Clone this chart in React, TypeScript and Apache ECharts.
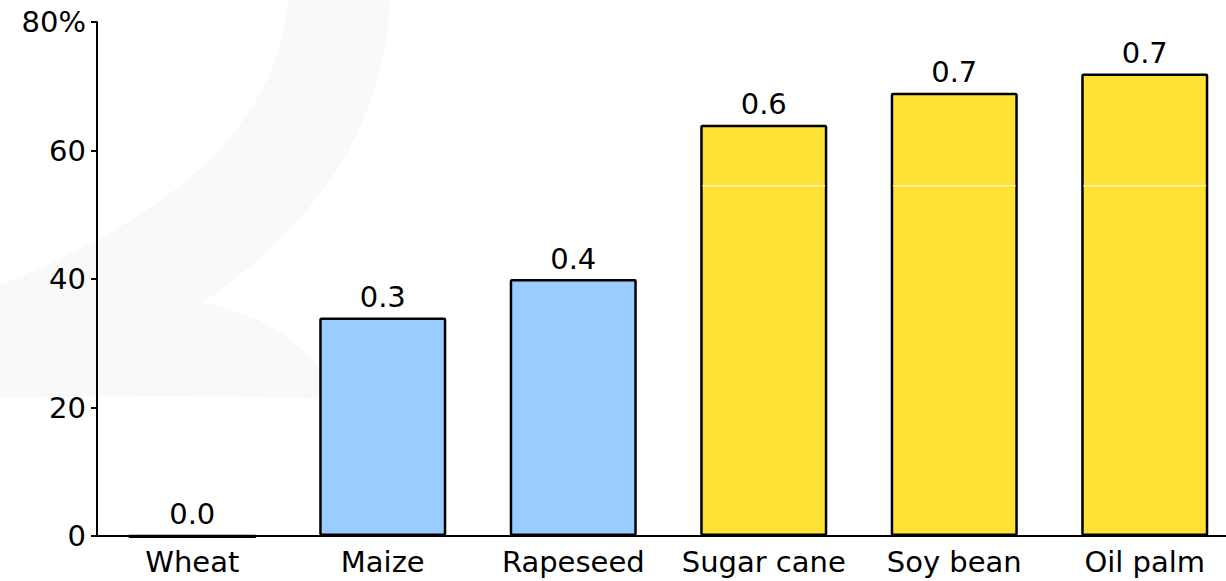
import React, { useEffect, useRef } from "react";
import * as echarts from "echarts";

const categories = ["Wheat", "Maize", "Rapeseed", "Sugar cane", "Soy bean", "Oil palm"];
const values = [0, 34, 40, 64, 69, 72];
const valueLabels = ["0.0", "0.3", "0.4", "0.6", "0.7", "0.7"];
const barColors = ["#99ccff", "#99ccff", "#99ccff", "#ffe234", "#ffe234", "#ffe234"];
const splitLevels = [null, null, null, 54.5, 54.5, 54.5];
const yTicks = [0, 20, 40, 60, 80];

const FONT = "DejaVu Sans";
const FS = 29;
const BAR_FRAC = 0.667;

export default function App() {
  const ref = useRef<HTMLDivElement>(null);
  useEffect(() => {
    if (!ref.current) return;
    echarts.graphic.registerShape(
      "wm1",
      echarts.graphic.extendPath(
        "M 288 0 C 278 110 200 205 0 285 L 0 398 C 210 330 382 200 390 0 Z",
        {}
      )
    );
    echarts.graphic.registerShape(
      "wm2",
      echarts.graphic.extendPath(
        "M 120 300 C 210 290 300 320 340 400 C 230 395 120 395 0 398 L 0 340 Z",
        {}
      )
    );
    const chart = echarts.init(ref.current, null, { renderer: "svg" });
    chart.setOption({
      animation: false,
      backgroundColor: "#ffffff",
      graphic: [
        { type: "wm1", x: 0, y: 0, z: -10, silent: true, style: { fill: "#f9f9f9" } },
        { type: "wm2", x: 0, y: 0, z: -10, silent: true, style: { fill: "#f9f9f9" } },
      ],
      grid: { left: 97, top: 22, bottom: 45, right: 0, containLabel: false },
      xAxis: {
        type: "category",
        data: categories,
        axisLine: { lineStyle: { color: "#000", width: 2 } },
        axisTick: { show: false },
        axisLabel: { color: "#000", fontFamily: FONT, fontSize: FS, margin: 11, interval: 0 },
      },
      yAxis: {
        type: "value",
        min: 0,
        max: 80,
        interval: 20,
        axisLine: { show: true, lineStyle: { color: "#000", width: 2 } },
        axisTick: { show: true, length: 6, lineStyle: { color: "#000", width: 2 } },
        splitLine: { show: false },
        axisLabel: {
          color: "#000",
          fontFamily: FONT,
          fontSize: FS,
          margin: 11,
          formatter: (v: number) => (v === yTicks[yTicks.length - 1] ? v + "%" : String(v)),
        },
      },
      series: [
        {
          type: "bar",
          barCategoryGap: ((1 - BAR_FRAC) * 100).toFixed(1) + "%",
          data: values.map((v, i) => ({
            value: v,
            itemStyle: { color: barColors[i] },
          })),
          itemStyle: { borderColor: "#000", borderWidth: 2.5, borderRadius: 1 },
          label: {
            show: true,
            position: "top",
            distance: 6,
            color: "#000",
            fontFamily: FONT,
            fontSize: FS,
            formatter: (p: any) => valueLabels[p.dataIndex],
          },
          z: 2,
        },
        {
          type: "custom",
          z: 3,
          silent: true,
          data: values.map((v, i) => [i, splitLevels[i] == null ? -1 : splitLevels[i], v]),
          renderItem: (params: any, api: any) => {
            const idx = api.value(0);
            const lvl = api.value(1);
            const val = api.value(2);
            const bw = api.size([1, 0])[0] * BAR_FRAC;
            const children: any[] = [];
            if (lvl > 0) {
              const c = api.coord([idx, lvl]);
              children.push({
                type: "line",
                shape: { x1: c[0] - bw / 2 + 2, y1: c[1], x2: c[0] + bw / 2 - 2, y2: c[1] },
                style: { stroke: "#ffffff", lineWidth: 1 },
              });
            }
            if (val === 0) {
              const c0 = api.coord([idx, 0]);
              children.push({
                type: "line",
                shape: { x1: c0[0] - bw / 2, y1: c0[1] + 0.5, x2: c0[0] + bw / 2, y2: c0[1] + 0.5 },
                style: { stroke: "#000", lineWidth: 3 },
              });
            }
            return { type: "group", children };
          },
        },
      ],
    });
    return () => chart.dispose();
  }, []);
  return (
    <div
      style={{ position: "fixed", left: 0, top: 0, width: 1226, height: 581, overflow: "hidden" }}
    >
      <div ref={ref} style={{ width: 1240, height: 581 }} />
    </div>
  );
}
